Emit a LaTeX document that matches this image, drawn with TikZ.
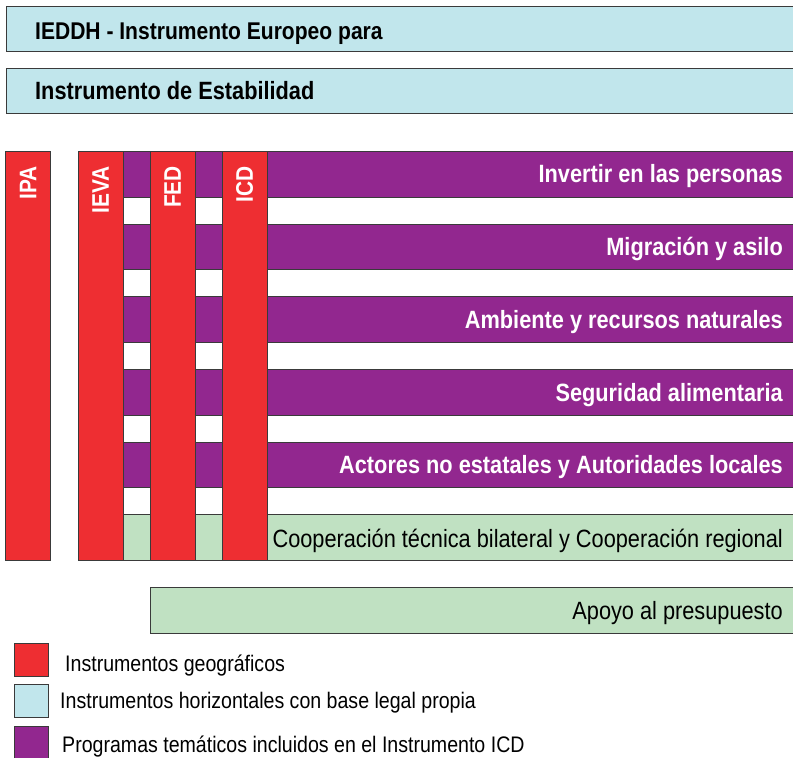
\documentclass[tikz,border=0pt]{standalone}
\usepackage{fontspec}
\setmainfont{Liberation Sans}[FakeStretch=0.87]
\definecolor{geored}{HTML}{EE2E32}
\definecolor{thpurple}{HTML}{92278F}
\definecolor{horblue}{HTML}{C1E6EC}
\definecolor{coopgreen}{HTML}{C0E1C2}
\definecolor{edge}{HTML}{3A3A3A}
\tikzset{
  box/.style={draw=edge, line width=0.9pt, anchor=north west, inner sep=0pt, outer sep=0pt},
  redbar/.style={box, fill=geored, minimum width=45pt, minimum height=409pt},
  purplebar/.style={box, fill=thpurple, minimum width=680pt, minimum height=46pt},
  whitebar/.style={box, fill=white, minimum width=680pt, minimum height=27pt},
  bluebar/.style={box, fill=horblue, minimum width=800pt, minimum height=45pt},
  greenbar/.style={box, fill=coopgreen, minimum height=46pt},
  legendbox/.style={box, minimum width=34pt, minimum height=33pt},
  themetext/.style={anchor=base east, text=white, font=\bfseries\fontsize{25}{28}\selectfont, inner sep=0pt},
  cooptext/.style={anchor=base east, text=black, font=\fontsize{25}{28}\selectfont, inner sep=0pt},
  toptext/.style={anchor=base west, text=black, font=\bfseries\fontsize{25}{28}\selectfont, inner sep=0pt},
  vertlabel/.style={rotate=90, anchor=east, text=white, font=\bfseries\fontsize{24}{28}\selectfont, inner sep=0pt},
  legendtext/.style={anchor=base west, text=black, font=\fontsize{22.5}{26}\selectfont, inner sep=0pt}
}
\begin{document}
\begin{tikzpicture}[x=1pt,y=-1pt]
\path[use as bounding box] (0,0) rectangle (793,758);
% horizontal instruments
\node[bluebar] (ieddh) at (6,6) {};
\node[toptext, font=\bfseries\fontsize{24.2}{28}\selectfont] (ieddht) at (35,39) {IEDDH - Instrumento Europeo para};
\node[bluebar] (ie) at (6,68) {};
\node[toptext] (iet) at (35,99) {Instrumento de Estabilidad};
% thematic rows
\node[purplebar] (p1) at (123,151) {};
\node[whitebar] (w1) at (123,197) {};
\node[purplebar] (p2) at (123,224) {};
\node[whitebar] (w2) at (123,269) {};
\node[purplebar] (p3) at (123,296) {};
\node[whitebar] (w3) at (123,342) {};
\node[purplebar] (p4) at (123,369) {};
\node[whitebar] (w4) at (123,415) {};
\node[purplebar] (p5) at (123,442) {};
\node[whitebar] (w5) at (123,487) {};
\node[greenbar, minimum width=680pt] (g1) at (123,514) {};
% geographic instruments
\node[redbar, minimum height=409pt] (ipa) at (5,151) {};
\node[redbar] (ieva) at (78,151) {};
\node[redbar] (fed) at (150,151) {};
\node[redbar] (icd) at (222,151) {};
\node[vertlabel] (ipat) at (28,166) {IPA};
\node[vertlabel] (ievat) at (100.5,166) {IEVA};
\node[vertlabel] (fedt) at (172.5,166) {FED};
\node[vertlabel] (icdt) at (244.5,166) {ICD};
% texts
\node[themetext] (t1) at (783,182) {Invertir en las personas};
\node[themetext] (t2) at (783,255) {Migración y asilo};
\node[themetext] (t3) at (783,328) {Ambiente y recursos naturales};
\node[themetext] (t4) at (783,401) {Seguridad alimentaria};
\node[themetext] (t5) at (783,473) {Actores no estatales y Autoridades locales};
\node[cooptext] (t6) at (783,547) {Cooperación técnica bilateral y Cooperación regional};
% budget support
\node[greenbar, minimum width=660pt] (apoyo) at (150,587) {};
\node[cooptext] (apoyot) at (783,619) {Apoyo al presupuesto};
% legend
\node[legendbox, fill=geored] (lg1) at (14,643) {};
\node[legendtext] (lg1t) at (65,671) {Instrumentos geográficos};
\node[legendbox, fill=horblue] (lg2) at (14,684) {};
\node[legendtext] (lg2t) at (60,708) {Instrumentos horizontales con base legal propia};
\node[legendbox, fill=thpurple] (lg3) at (14,726) {};
\node[legendtext] (lg3t) at (62,752) {Programas temáticos incluidos en el Instrumento ICD};
\end{tikzpicture}
\end{document}
